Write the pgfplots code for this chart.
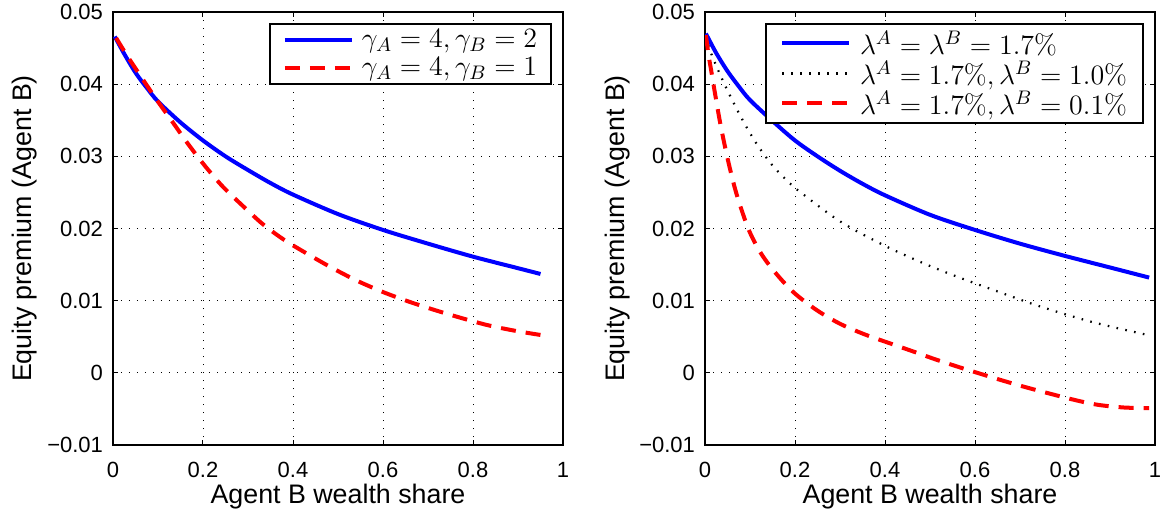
\RequirePackage{fix-cm}
\documentclass[border=0pt]{standalone}
\usepackage[no-math]{fontspec}
\setmainfont{Liberation Sans}
\usepackage{pgfplots}
\pgfplotsset{compat=1.18}

\pgfplotsset{
  mystyle/.style={
    scale only axis, width=225pt, height=216.5pt,
    xmin=0, xmax=1, ymin=-0.01, ymax=0.05,
    xtick={0,0.2,0.4,0.6,0.8,1}, xticklabels={0,0.2,0.4,0.6,0.8,1},
    ytick={-0.01,0,0.01,0.02,0.03,0.04,0.05},
    yticklabels={−0.01,0,0.01,0.02,0.03,0.04,0.05},
    scaled ticks=false,
    /pgf/number format/assume math mode=true,
    grid=major,
    major grid style={black, line width=0.45pt, dash pattern=on 0.5pt off 3.5pt},
    tick align=inside, major tick length=2.5pt,
    every tick/.style={black, line width=0.5pt},
    axis line style={black, line width=0.7pt},
    ticklabel style={font=\fontsize{11}{13}\selectfont},
    xticklabel style={yshift=-5pt},
    yticklabel style={xshift=-1.5pt},
    label style={font=\fontsize{13.4}{15}\selectfont},
    xlabel={Agent B wealth share},
    ylabel={Equity premium (Agent B)},
    xlabel style={at={(axis description cs:0.5,-0.134)}, anchor=base},
    ylabel style={at={(axis description cs:-0.18,0.5)}, anchor=base},
    legend image code/.code={\draw[#1, line cap=butt] (0pt,0pt) -- (33.5pt,0pt);},
    legend cell align=left,
  },
  bluel/.style={color=blue, line width=2pt, solid, smooth},
  redl/.style={color=red, line width=2pt, dash pattern=on 7.5pt off 5pt, smooth},
  blackl/.style={color=black, line width=1.1pt, dash pattern=on 0.8pt off 3.7pt, smooth},
}

\begin{document}
\begin{tikzpicture}
\begin{axis}[mystyle, at={(0pt,0pt)},
  legend style={at={(1,1)}, anchor=north east, xshift=-5.6pt, yshift=-5.6pt,
    draw=black, line width=0.7pt, fill=white, inner xsep=6.5pt, inner ysep=1pt,
    column sep=3.5pt, row sep=0pt, font=\fontsize{14}{16}\selectfont,
    nodes={inner xsep=0.5pt, inner ysep=0.7pt, text height=10pt, text depth=2.6pt}}]
\addplot[bluel] table {
x y
0.004 0.0466
0.025 0.0442
0.050 0.0416
0.075 0.0395
0.100 0.0376
0.150 0.0347
0.200 0.0322
0.250 0.0300
0.300 0.0281
0.350 0.0263
0.400 0.0247
0.500 0.0220
0.600 0.0198
0.700 0.0179
0.800 0.0161
0.900 0.0145
0.950 0.0137
};
\addlegendentry{$\gamma_A = 4, \gamma_B = 2$}
\addplot[redl] table {
x y
0.007 0.0464
0.037 0.0434
0.093 0.0382
0.133 0.0347
0.167 0.0317
0.204 0.0287
0.244 0.0258
0.289 0.0231
0.333 0.0206
0.381 0.0184
0.437 0.0163
0.485 0.0146
0.541 0.0128
0.600 0.0112
0.656 0.0099
0.715 0.0087
0.774 0.0076
0.833 0.0066
0.896 0.0058
0.955 0.0052
};
\addlegendentry{$\gamma_A = 4, \gamma_B = 1$}
\end{axis}

\begin{axis}[mystyle, at={(296pt,0pt)},
  legend style={at={(1,1)}, anchor=north east, xshift=-5.6pt, yshift=-5.6pt,
    draw=black, line width=0.7pt, fill=white, inner xsep=7.2pt, inner ysep=2.25pt,
    column sep=3.5pt, row sep=0pt, font=\fontsize{14}{16}\selectfont,
    nodes={inner xsep=0.8pt, inner ysep=0.25pt, text height=13pt, text depth=1.5pt}}]
\addplot[bluel] table {
x y
0.002 0.0470
0.025 0.0443
0.050 0.0418
0.075 0.0397
0.100 0.0378
0.150 0.0349
0.200 0.0322
0.250 0.0300
0.300 0.0280
0.350 0.0262
0.400 0.0246
0.500 0.0219
0.600 0.0198
0.700 0.0179
0.800 0.0162
0.900 0.0146
0.987 0.0132
};
\addlegendentry{$\lambda^A = \lambda^B = 1.7\%$}
\addplot[blackl] table {
x y
0.002 0.0466
0.011 0.0447
0.026 0.0424
0.044 0.0399
0.067 0.0370
0.089 0.0344
0.111 0.0321
0.133 0.0301
0.156 0.0283
0.193 0.0260
0.219 0.0247
0.263 0.0226
0.300 0.0210
0.341 0.0195
0.400 0.0176
0.441 0.0164
0.504 0.0147
0.574 0.0130
0.667 0.0109
0.730 0.0095
0.796 0.0082
0.863 0.0070
0.930 0.0060
0.987 0.0052
};
\addlegendentry{$\lambda^A = 1.7\%, \lambda^B = 1.0\%$}
\addplot[redl] table {
x y
0.002 0.0468
0.008 0.0440
0.014 0.0418
0.022 0.0388
0.035 0.0342
0.052 0.0292
0.070 0.0248
0.096 0.0200
0.122 0.0168
0.152 0.0142
0.196 0.0112
0.248 0.0087
0.300 0.0068
0.356 0.0053
0.415 0.0040
0.470 0.0028
0.515 0.0018
0.574 0.0006
0.600 0.0001
0.663 -0.0011
0.719 -0.0021
0.811 -0.0036
0.870 -0.0044
0.930 -0.0048
0.987 -0.0049
};
\addlegendentry{$\lambda^A = 1.7\%, \lambda^B = 0.1\%$}
\end{axis}
\pgfresetboundingbox
\useasboundingbox (-56.5pt,-35pt) rectangle (524pt,222.5pt);
\end{tikzpicture}
\end{document}
